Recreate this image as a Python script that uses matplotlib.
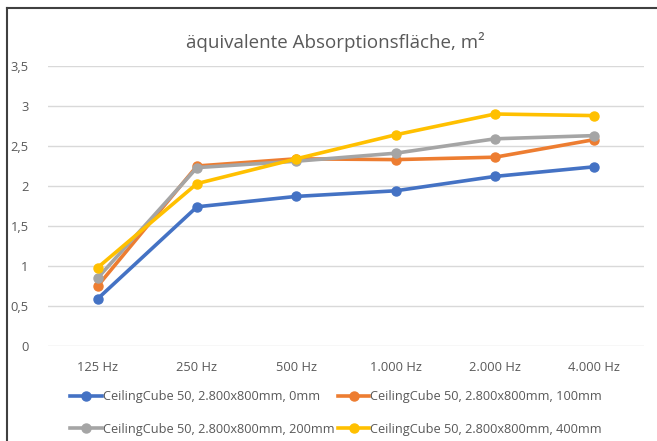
import matplotlib.pyplot as plt
from matplotlib.lines import Line2D

FREQS = ['125 Hz', '250 Hz', '500 Hz', '1.000 Hz', '2.000 Hz', '4.000 Hz']
S_0MM = [0.59, 1.74, 1.87, 1.94, 2.12, 2.24]
S_100MM = [0.75, 2.25, 2.34, 2.33, 2.36, 2.58]
S_200MM = [0.85, 2.23, 2.31, 2.41, 2.59, 2.63]
S_400MM = [0.98, 2.03, 2.34, 2.64, 2.90, 2.88]
LABELS = ['CeilingCube 50, 2.800x800mm, 0mm',
          'CeilingCube 50, 2.800x800mm, 100mm',
          'CeilingCube 50, 2.800x800mm, 200mm',
          'CeilingCube 50, 2.800x800mm, 400mm']
COLORS = ['#4472C4', '#ED7D31', '#A5A5A5', '#FFC000']
YTICKS = [0, 0.5, 1, 1.5, 2, 2.5, 3, 3.5]
YTICKLABELS = ['0', '0,5', '1', '1,5', '2', '2,5', '3', '3,5']

plt.rcParams['font.family'] = ['Open Sans', 'DejaVu Sans']
TXT = '#595959'

fig = plt.figure(figsize=(6.57, 4.41), dpi=100)
ax = fig.add_axes([48 / 657, 1 - 346 / 441, 596 / 657, 280 / 441])

x = range(len(FREQS))
handles = []
for ys, lab, c in zip([S_0MM, S_100MM, S_200MM, S_400MM], LABELS, COLORS):
    h, = ax.plot(x, ys, color=c, lw=2.6, marker='o', ms=6.5, label=lab,
                 solid_joinstyle='round', zorder=3)
    handles.append(h)

ax.set_xlim(-0.5, len(FREQS) - 0.5)
ax.set_ylim(0, 3.5)
ax.set_xticks(list(x))
ax.set_xticklabels(FREQS, color=TXT, fontsize=9.3)
ax.set_yticks(YTICKS)
ax.set_yticklabels(YTICKLABELS, color=TXT, fontsize=9.3)
ax.tick_params(length=0, pad=11)
ax.tick_params(axis='y', pad=14)
for s in ax.spines.values():
    s.set_visible(False)
ax.grid(axis='y', color='#D9D9D9', lw=1)
ax.set_axisbelow(True)

fig.text(335 / 657, 1 - 42 / 441, 'äquivalente Absorptionsfläche, m²',
         ha='center', va='center', fontsize=13.5, color=TXT)

# legend: row-wise order like the original (blue, orange / gray, yellow)
order = [0, 2, 1, 3]
fig.legend([handles[i] for i in order], [LABELS[i] for i in order],
           ncol=2, loc='center', bbox_to_anchor=(336 / 657, 1 - 413 / 441),
           frameon=False, fontsize=9.2, labelcolor=TXT, handlelength=2.5,
           handletextpad=0.05, columnspacing=0.25, labelspacing=1.5)

# outer chart frame (partly cut off in the original)
fig.add_artist(Line2D([7 / 657, 7 / 657], [0, 1 - 8 / 441], color='#404040', lw=1.5))
fig.add_artist(Line2D([7 / 657, 1], [1 - 8 / 441, 1 - 8 / 441], color='#404040', lw=1.5))

fig.savefig('out.png', dpi=100)
